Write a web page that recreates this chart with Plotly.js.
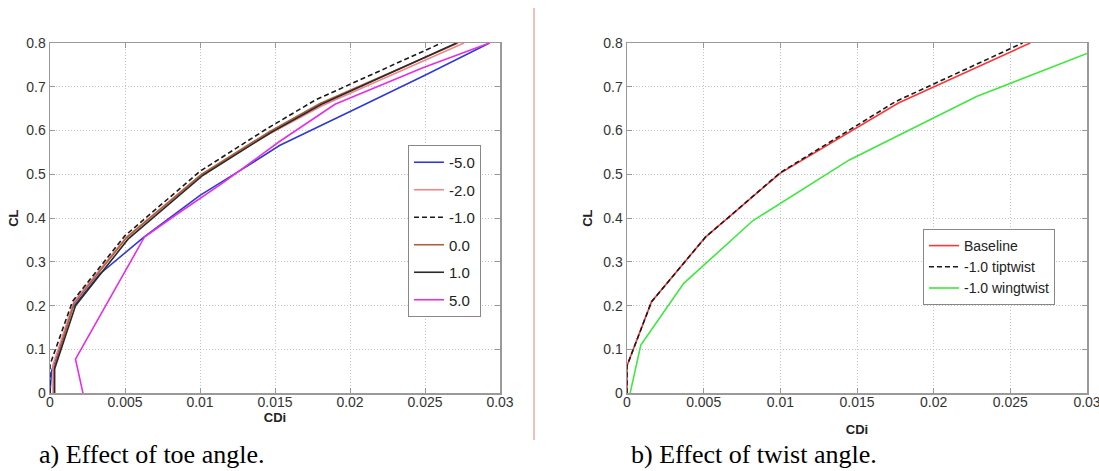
<!DOCTYPE html>
<html>
<head>
<meta charset="utf-8">
<script src="https://cdn.plot.ly/plotly-3.0.1.min.js"></script>
<style>
html,body{margin:0;padding:0;background:#fff;}
#chart{width:1099px;height:471px;}
</style>
</head>
<body>
<div id="chart"></div>
<script>
// ---- tick labels ----
const cdiTicks = [0, 0.005, 0.01, 0.015, 0.02, 0.025, 0.03];
const cdiTickLabels = ['0', '0.005', '0.01', '0.015', '0.02', '0.025', '0.03'];
const clTicks = [0, 0.1, 0.2, 0.3, 0.4, 0.5, 0.6, 0.7, 0.8];
const clTickLabels = ['0', '0.1', '0.2', '0.3', '0.4', '0.5', '0.6', '0.7', '0.8'];

// ---- a) toe angle ----
const toeNames = ['-5.0', '-2.0', '-1.0', '0.0', '1.0', '5.0'];
const toeM5_cdi = [0, 0.0001, 0.0015, 0.0033, 0.0063, 0.0100, 0.0132, 0.0153, 0.0207, 0.0251, 0.0293];
const toeM5_cl  = [0, 0.05, 0.195, 0.272, 0.358, 0.452, 0.52, 0.566, 0.655, 0.728, 0.8];
const toeM2_cdi = [0.0002, 0.0002, 0.0016, 0.0051, 0.0101, 0.0147, 0.0182, 0.0276];
const toeM2_cl  = [0, 0.065, 0.21, 0.357, 0.5, 0.594, 0.658, 0.8];
const toeM1_cdi = [0, 0, 0.0015, 0.0050, 0.0100, 0.0144, 0.0177, 0.0261];
const toeM1_cl  = [0, 0.065, 0.21, 0.36, 0.507, 0.603, 0.67, 0.8];
const toe0_cdi  = [0.0003, 0.0003, 0.0016, 0.0051, 0.0101, 0.0146, 0.0180, 0.0272];
const toe0_cl   = [0, 0.06, 0.205, 0.355, 0.5, 0.597, 0.662, 0.8];
const toeP1_cdi = [0.0003, 0.0003, 0.0017, 0.0052, 0.0102, 0.0147, 0.0181, 0.0271];
const toeP1_cl  = [0, 0.055, 0.2, 0.352, 0.498, 0.595, 0.66, 0.8];
const toeP5_cdi = [0.0022, 0.0017, 0.0063, 0.0085, 0.0115, 0.0153, 0.0190, 0.0249, 0.0293];
const toeP5_cl  = [0, 0.078, 0.357, 0.41, 0.48, 0.575, 0.66, 0.744, 0.8];

// ---- b) twist angle ----
const twistNames = ['Baseline', '-1.0 tiptwist', '-1.0 wingtwist'];
const base_cdi = [0, 0, 0.0016, 0.0051, 0.0100, 0.0144, 0.0177, 0.0263];
const base_cl  = [0, 0.063, 0.209, 0.356, 0.503, 0.595, 0.663, 0.8];
const tip_cdi  = [0, 0, 0.0016, 0.0051, 0.0100, 0.0143, 0.0175, 0.0258];
const tip_cl   = [0, 0.063, 0.209, 0.356, 0.504, 0.598, 0.666, 0.8];
const wing_cdi = [0.0002, 0.0009, 0.0037, 0.0082, 0.0145, 0.0228, 0.030];
const wing_cl  = [0, 0.11, 0.251, 0.394, 0.533, 0.678, 0.776];

const captions = ['a) Effect of toe angle.', 'b) Effect of twist angle.'];

const W = 1099, H = 471;
const px = v => v / W, py = v => 1 - v / H;

function tr(x, y, name, color, dash, xa, ya, leg, grp) {
  return {x: x, y: y, name: name, type: 'scatter', mode: 'lines',
    line: {color: color, width: 1.6, dash: dash || 'solid'},
    xaxis: xa, yaxis: ya, legend: leg, legendgroup: grp, hoverinfo: 'skip'};
}

const traces = [
  tr(toeM5_cdi, toeM5_cl, toeNames[0], '#2f3ad6', null, 'x', 'y', 'legend', 'a1'),
  tr(toeM2_cdi, toeM2_cl, toeNames[1], '#f2868a', null, 'x', 'y', 'legend', 'a2'),
  tr(toeM1_cdi, toeM1_cl, toeNames[2], '#1a1a1a', '5px,3px', 'x', 'y', 'legend', 'a3'),
  tr(toe0_cdi, toe0_cl, toeNames[3], '#b0603a', null, 'x', 'y', 'legend', 'a4'),
  tr(toeP1_cdi, toeP1_cl, toeNames[4], '#2a2a2a', null, 'x', 'y', 'legend', 'a5'),
  tr(toeP5_cdi, toeP5_cl, toeNames[5], '#e62ee6', null, 'x', 'y', 'legend', 'a6'),
  tr(base_cdi, base_cl, twistNames[0], '#ff3434', null, 'x2', 'y2', 'legend2', 'b1'),
  tr(tip_cdi, tip_cl, twistNames[1], '#1a1a1a', '5px,3px', 'x2', 'y2', 'legend2', 'b2'),
  tr(wing_cdi, wing_cl, twistNames[2], '#3ee83e', null, 'x2', 'y2', 'legend2', 'b3')
];

const tickFont = {family: 'Liberation Sans, Arial, sans-serif', size: 14, color: '#333'};
const titleFont = {family: 'Liberation Sans, Arial, sans-serif', size: 13, color: '#222', weight: 'bold'};

function xax(dom, standoff) {
  return {domain: dom, range: [0, 0.03], tickvals: cdiTicks, ticktext: cdiTickLabels,
    ticks: 'inside', ticklen: 5, tickcolor: '#999', showline: true, linecolor: '#9a9a9a',
    linewidth: 1.5, mirror: 'ticks', showgrid: true, gridcolor: '#c4c4c4', griddash: '1px,2px',
    gridwidth: 1, zeroline: false, tickfont: tickFont, fixedrange: true,
    ticklabelstandoff: -5, ticklabeloverflow: 'allow',
    title: {text: 'CDi', font: titleFont, standoff: standoff}};
}
function yax(dom, anchor, standoff) {
  return {domain: dom, anchor: anchor, range: [0, 0.8], tickvals: clTicks, ticktext: clTickLabels,
    ticks: 'inside', ticklen: 5, tickcolor: '#999', showline: true, linecolor: '#9a9a9a',
    linewidth: 1.5, mirror: 'ticks', showgrid: true, gridcolor: '#c4c4c4', griddash: '1px,2px',
    gridwidth: 1, zeroline: false, tickfont: tickFont, fixedrange: true,
    title: {text: 'CL', font: titleFont, standoff: standoff}};
}

const yDom = [py(393.3), py(43)];
const layout = {
  width: W, height: H,
  margin: {l: 0, r: 0, t: 0, b: 0},
  paper_bgcolor: '#fff', plot_bgcolor: '#fff',
  showlegend: true,
  xaxis: xax([px(50), px(500)], 0),
  yaxis: yax(yDom, 'x', 4),
  xaxis2: Object.assign(xax([px(627), px(1087)], 16), {anchor: 'y2'}),
  yaxis2: yax(yDom, 'x2', 7),
  legend: {x: px(408), y: py(145), xanchor: 'left', yanchor: 'top',
    bgcolor: '#fff', bordercolor: '#888', borderwidth: 1,
    font: {family: 'Liberation Sans, Arial, sans-serif', size: 15, color: '#222'},
    tracegroupgap: 5, itemwidth: 30},
  legend2: {x: px(923), y: py(229), xanchor: 'left', yanchor: 'top',
    bgcolor: '#fff', bordercolor: '#888', borderwidth: 1,
    font: {family: 'Liberation Sans, Arial, sans-serif', size: 14, color: '#222'},
    tracegroupgap: 0, itemwidth: 30},
  shapes: [{type: 'line', xref: 'paper', yref: 'paper', x0: px(534), x1: px(534),
    y0: py(440), y1: py(8), line: {color: '#e0826e', width: 1}}],
  annotations: [
    {text: captions[0], xref: 'paper', yref: 'paper', x: px(37), y: py(471),
     xanchor: 'left', yanchor: 'bottom', showarrow: false,
     font: {family: 'Liberation Serif, Times New Roman, serif', size: 26, color: '#000'}},
    {text: captions[1], xref: 'paper', yref: 'paper', x: px(629), y: py(471),
     xanchor: 'left', yanchor: 'bottom', showarrow: false,
     font: {family: 'Liberation Serif, Times New Roman, serif', size: 26, color: '#000'}}
  ]
};

Plotly.newPlot('chart', traces, layout, {staticPlot: true, displayModeBar: false});
</script>
</body>
</html>
